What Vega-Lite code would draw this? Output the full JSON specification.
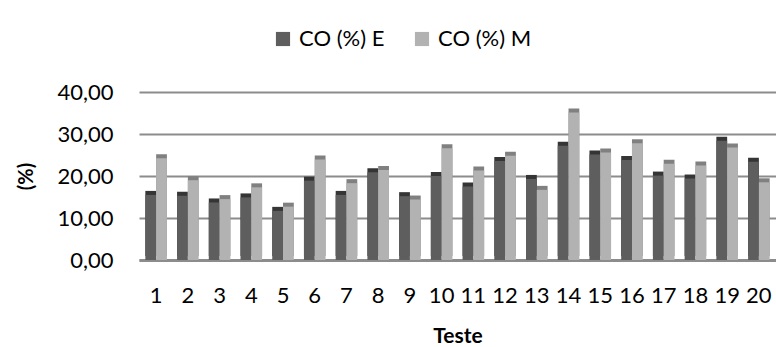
{
  "$schema": "https://vega.github.io/schema/vega-lite/v6.json",
  "width": 637,
  "height": 168,
  "autosize": {"type": "none"},
  "padding": {"left": 139, "top": 92, "right": 0, "bottom": 87},
  "background": "white",
  "config": {
    "font": "Lato",
    "view": {"stroke": null}
  },
  "data": {
    "values": [
      {"teste": 1, "serie": "CO (%) E", "valor": 15.5},
      {"teste": 1, "serie": "CO (%) M", "valor": 24.2},
      {"teste": 2, "serie": "CO (%) E", "valor": 15.3},
      {"teste": 2, "serie": "CO (%) M", "valor": 19.0},
      {"teste": 3, "serie": "CO (%) E", "valor": 13.7},
      {"teste": 3, "serie": "CO (%) M", "valor": 14.5},
      {"teste": 4, "serie": "CO (%) E", "valor": 14.9},
      {"teste": 4, "serie": "CO (%) M", "valor": 17.3},
      {"teste": 5, "serie": "CO (%) E", "valor": 11.7},
      {"teste": 5, "serie": "CO (%) M", "valor": 12.7},
      {"teste": 6, "serie": "CO (%) E", "valor": 18.9},
      {"teste": 6, "serie": "CO (%) M", "valor": 23.9},
      {"teste": 7, "serie": "CO (%) E", "valor": 15.5},
      {"teste": 7, "serie": "CO (%) M", "valor": 18.3},
      {"teste": 8, "serie": "CO (%) E", "valor": 20.9},
      {"teste": 8, "serie": "CO (%) M", "valor": 21.4},
      {"teste": 9, "serie": "CO (%) E", "valor": 15.2},
      {"teste": 9, "serie": "CO (%) M", "valor": 14.4},
      {"teste": 10, "serie": "CO (%) E", "valor": 20.0},
      {"teste": 10, "serie": "CO (%) M", "valor": 26.6},
      {"teste": 11, "serie": "CO (%) E", "valor": 17.5},
      {"teste": 11, "serie": "CO (%) M", "valor": 21.3},
      {"teste": 12, "serie": "CO (%) E", "valor": 23.6},
      {"teste": 12, "serie": "CO (%) M", "valor": 24.8},
      {"teste": 13, "serie": "CO (%) E", "valor": 19.3},
      {"teste": 13, "serie": "CO (%) M", "valor": 16.7},
      {"teste": 14, "serie": "CO (%) E", "valor": 27.2},
      {"teste": 14, "serie": "CO (%) M", "valor": 35.1},
      {"teste": 15, "serie": "CO (%) E", "valor": 25.1},
      {"teste": 15, "serie": "CO (%) M", "valor": 25.6},
      {"teste": 16, "serie": "CO (%) E", "valor": 23.8},
      {"teste": 16, "serie": "CO (%) M", "valor": 27.8},
      {"teste": 17, "serie": "CO (%) E", "valor": 20.1},
      {"teste": 17, "serie": "CO (%) M", "valor": 22.9},
      {"teste": 18, "serie": "CO (%) E", "valor": 19.4},
      {"teste": 18, "serie": "CO (%) M", "valor": 22.5},
      {"teste": 19, "serie": "CO (%) E", "valor": 28.4},
      {"teste": 19, "serie": "CO (%) M", "valor": 26.8},
      {"teste": 20, "serie": "CO (%) E", "valor": 23.4},
      {"teste": 20, "serie": "CO (%) M", "valor": 18.5}
    ]
  },
  "encoding": {
    "x": {
      "field": "teste",
      "type": "ordinal",
      "scale": {"paddingInner": 0.32, "paddingOuter": 0.2},
      "axis": {
        "title": "Teste",
        "labelAngle": 0,
        "labelFontSize": 22,
        "labelColor": "#000000",
        "labelPadding": 25,
        "ticks": false,
        "domainColor": "#8c8c8c",
        "domainWidth": 3,
        "titleFontSize": 21,
        "titleFontWeight": "bold",
        "titleColor": "#000000",
        "titlePadding": 19
      }
    },
    "xOffset": {"field": "serie", "type": "nominal"},
    "y": {
      "field": "valor",
      "type": "quantitative",
      "scale": {"domain": [0, 40], "nice": false},
      "axis": {
        "title": "(%)",
        "values": [0, 10, 20, 30, 40],
        "format": ".2f",
        "labelExpr": "replace(datum.label, '.', ',')",
        "labelFontSize": 22,
        "labelColor": "#000000",
        "labelPadding": 26,
        "ticks": false,
        "domain": false,
        "grid": true,
        "gridColor": "#8c8c8c",
        "gridWidth": 2,
        "titleFontSize": 20,
        "titleFontWeight": "bold",
        "titleColor": "#000000",
        "titlePadding": 20
      }
    }
  },
  "layer": [
    {
      "mark": {"type": "bar", "xOffset": 4, "yOffset": -4},
      "encoding": {
        "color": {
          "field": "serie",
          "type": "nominal",
          "scale": {"domain": ["CO (%) E", "CO (%) M"], "range": ["#353535", "#808080"]},
          "legend": null
        }
      }
    },
    {
      "mark": {"type": "bar"},
      "encoding": {
        "color": {
          "field": "serie",
          "type": "nominal",
          "scale": {"domain": ["CO (%) E", "CO (%) M"], "range": ["#5e5e5e", "#b2b2b2"]},
          "legend": {
            "title": null,
            "orient": "none",
            "direction": "horizontal",
            "legendX": 133,
            "legendY": -64,
            "symbolType": "square",
            "symbolSize": 200,
            "symbolStrokeWidth": 0,
            "labelFontSize": 22,
            "labelColor": "#000000",
            "columnPadding": 26,
            "labelOffset": 5
          }
        }
      }
    }
  ],
  "resolve": {"scale": {"color": "independent"}}
}
